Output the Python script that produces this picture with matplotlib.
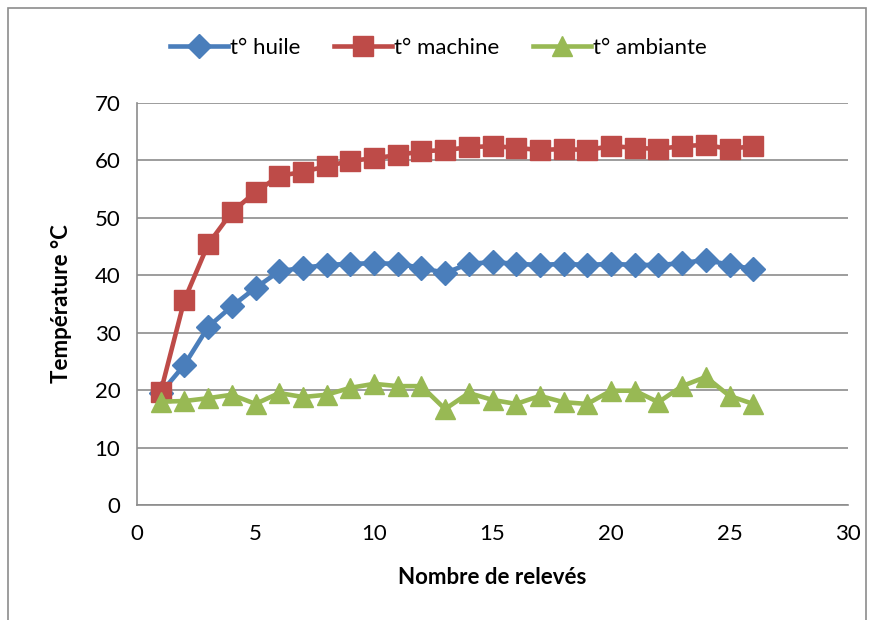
import matplotlib
matplotlib.use("Agg")
import matplotlib.pyplot as plt
from matplotlib.patches import Rectangle

releves = list(range(1, 27))
t_huile = [19.5, 24.4, 31.0, 34.6, 37.8, 40.7, 41.3, 41.8, 42.0, 42.1, 42.0, 41.3, 40.4,
           42.0, 42.3, 42.0, 41.8, 42.0, 41.8, 42.0, 41.8, 41.8, 42.1, 42.7, 41.8, 41.1]
t_machine = [19.7, 35.7, 45.4, 51.0, 54.5, 57.3, 58.0, 59.0, 59.9, 60.4, 60.9, 61.6, 61.8,
             62.3, 62.5, 62.2, 61.8, 62.0, 61.8, 62.5, 62.2, 62.0, 62.5, 62.7, 62.0, 62.5]
t_ambiante = [18.0, 18.1, 18.6, 19.2, 17.6, 19.5, 18.8, 19.2, 20.4, 21.1, 20.7, 20.7, 16.7,
              19.5, 18.3, 17.6, 19.0, 17.9, 17.6, 19.9, 19.9, 17.9, 20.7, 22.3, 19.0, 17.6]

plt.rcParams['font.family'] = ['Lato', 'DejaVu Sans']

fig = plt.figure(figsize=(8.77, 6.2), dpi=100)
ax = fig.add_axes([137/877, 1 - 505/620, (848 - 137)/877, (505 - 103)/620])

# outer chart border
fig.patches.append(Rectangle((8/877, -0.05), (866 - 8)/877, 1 - 8/620 + 0.05,
                             transform=fig.transFigure, fill=False,
                             edgecolor='#8c8c8c', linewidth=1.2))

ax.plot(releves, t_huile, color='#4A7EBB', lw=3.3, marker='D', markersize=12, label='t° huile', zorder=3)
ax.plot(releves, t_machine, color='#BE4B48', lw=3.3, marker='s', markersize=14, label='t° machine', zorder=3)
ax.plot(releves, t_ambiante, color='#98B954', lw=3.3, marker='^', markersize=15, label='t° ambiante', zorder=4)

ax.set_xlim(0, 30)
ax.set_ylim(0, 70)
ax.set_xticks(range(0, 31, 5))
ax.set_yticks(range(0, 71, 10))
ax.yaxis.grid(True, color='#8c8c8c', lw=1.2)
ax.set_axisbelow(True)
for s in ['top', 'right']:
    ax.spines[s].set_visible(False)
for s in ['left', 'bottom']:
    ax.spines[s].set_color('#8c8c8c')
    ax.spines[s].set_linewidth(1.2)
ax.tick_params(axis='both', labelsize=16, length=0)
ax.tick_params(axis='x', pad=14)
ax.tick_params(axis='y', pad=12)
ax.set_xlabel('Nombre de relevés', fontsize=16, fontweight='bold', labelpad=16)
ax.set_ylabel('Température °C', fontsize=16, fontweight='bold', labelpad=16)

fig.legend(loc='center', bbox_to_anchor=(0.5, 1 - 48/620), ncol=3, frameon=False,
           fontsize=16, handlelength=2.6, columnspacing=1.5, handletextpad=0.1)

fig.savefig('out.png', dpi=100)
